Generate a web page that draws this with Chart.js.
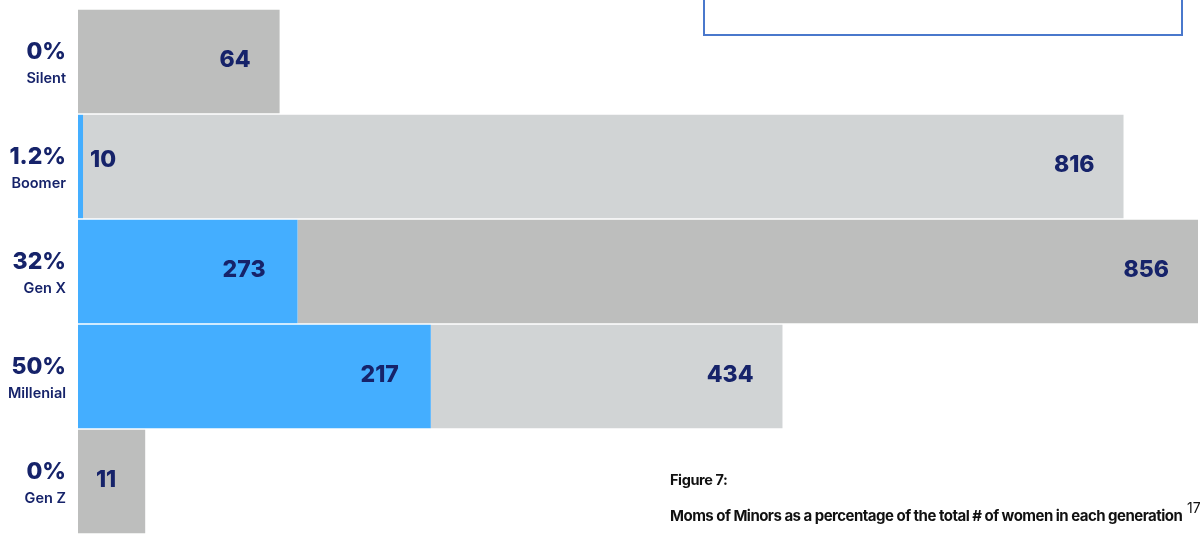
<!DOCTYPE html>
<html>
<head>
<meta charset="utf-8">
<script src="https://cdn.jsdelivr.net/npm/chart.js@4"></script>
<style>
    html, body { margin: 0; padding: 0; background: #fff; }
    body { width: 1201px; height: 534px; position: relative; overflow: hidden; font-family: Inter, "Liberation Sans", sans-serif; }
    #chart { position: absolute; left: 0; top: 0; }
    .note-box { position: absolute; left: 703px; top: -10px; width: 476px; height: 42px; border: 2px solid #4a78cc; }
    .fig-title { position: absolute; left: 670px; top: 471px; font-size: 14.5px; font-weight: 700; color: #111; letter-spacing: -0.4px; }
    .fig-caption { position: absolute; left: 670px; top: 506px; font-size: 15px; font-weight: 700; color: #111; letter-spacing: -0.52px; white-space: nowrap; }
    .page-num { position: absolute; left: 1187px; top: 499px; font-size: 14px; color: #111; }
</style>
</head>
<body>
<canvas id="chart" width="1201" height="534"></canvas>
<div class="note-box"></div>
<div class="fig-title">Figure 7:</div>
<div class="fig-caption">Moms of Minors as a percentage of the total # of women in each generation</div>
<div class="page-num">17</div>
<script>
    // --- Data ---
    const generations = ['Silent', 'Boomer', 'Gen X', 'Millenial', 'Gen Z'];
    const momShare = ['0%', '1.2%', '32%', '50%', '0%'];
    const momsOfMinors = [null, 10, 273, 217, null];   // numbers printed on the blue bars
    const totalWomen = [64, 816, 856, 434, 11];        // numbers printed on the grey bars
    // bar lengths as drawn in the figure (share of the plot width, %)
    const blueLength = [0, 0.45, 19.6, 31.5, 0];
    const greyLength = [18.0, 92.9, 80.4, 31.4, 6.0];

    const navy = '#16236a';
    const blue = '#44aeff';
    const greyDark = '#bdbebd';
    const greyLight = '#d1d4d5';
    const boldFont = '800 23px Inter, "Liberation Sans", sans-serif';

    // numbers inside the bars
    const barLabels = {
        id: 'barLabels',
        afterDatasetsDraw(chart) {
            const ctx = chart.ctx;
            ctx.save();
            ctx.font = boldFont;
            ctx.fillStyle = navy;
            ctx.textBaseline = 'middle';
            const sets = [momsOfMinors, totalWomen];
            sets.forEach((values, di) => {
                const meta = chart.getDatasetMeta(di);
                meta.data.forEach((bar, i) => {
                    const v = values[i];
                    if (v === null || v === undefined) return;
                    const width = Math.abs(bar.x - bar.base);
                    if (width < 40) {
                        // too thin to hold the number, put it just after the bar
                        ctx.textAlign = 'left';
                        ctx.fillText(String(v), bar.x + 7, bar.y - 6);
                    } else {
                        ctx.textAlign = 'right';
                        ctx.fillText(String(v), bar.x - (di === 0 ? 32 : 29), bar.y - 1);
                    }
                });
            });
            ctx.restore();
        }
    };

    // percentage + generation name on the left
    const sideLabels = {
        id: 'sideLabels',
        afterDraw(chart) {
            const ctx = chart.ctx;
            const y = chart.scales.y;
            ctx.save();
            ctx.fillStyle = navy;
            ctx.textAlign = 'right';
            ctx.textBaseline = 'middle';
            generations.forEach((name, i) => {
                const cy = y.getPixelForValue(i);
                ctx.font = boldFont;
                ctx.fillText(momShare[i], 66, cy - 9);
                ctx.font = '600 14.5px Inter, "Liberation Sans", sans-serif';
                ctx.fillText(name, 66, cy + 17);
            });
            ctx.restore();
        }
    };

    const ctx = document.getElementById('chart').getContext('2d');
    new Chart(ctx, {
        type: 'bar',
        data: {
            labels: generations,
            datasets: [
                {
                    label: 'Moms of minors',
                    data: blueLength,
                    backgroundColor: blue,
                    borderWidth: 0,
                    barPercentage: 0.985,
                    categoryPercentage: 1
                },
                {
                    label: 'Women',
                    data: greyLength,
                    backgroundColor: generations.map((g, i) => i % 2 === 0 ? greyDark : greyLight),
                    borderWidth: 0,
                    barPercentage: 0.985,
                    categoryPercentage: 1
                }
            ]
        },
        options: {
            indexAxis: 'y',
            responsive: false,
            devicePixelRatio: 1,
            animation: false,
            layout: { padding: { left: 78, right: 3, top: 9, bottom: 0 } },
            scales: {
                x: { display: false, stacked: true, min: 0, max: 100 },
                y: { display: false, stacked: true }
            },
            plugins: {
                legend: { display: false },
                tooltip: { enabled: false }
            }
        },
        plugins: [barLabels, sideLabels]
    });
</script>
</body>
</html>
